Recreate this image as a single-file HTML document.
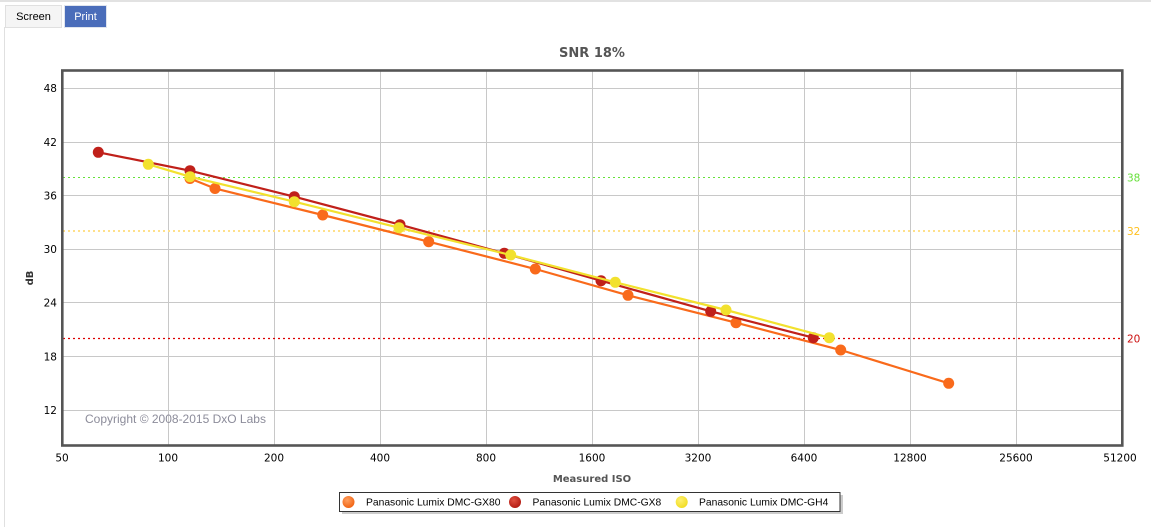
<!DOCTYPE html>
<html>
<head>
<meta charset="utf-8">
<style>
html,body{margin:0;padding:0;background:#fff;width:1151px;height:527px;overflow:hidden;}
svg{display:block;}
</style>
</head>
<body>
<svg width="1151" height="527" viewBox="0 0 1151 527" xmlns="http://www.w3.org/2000/svg">
  <!-- outer frame -->
  <rect x="0" y="0" width="1151" height="2" fill="#e2e2e2"/>
  <rect x="4" y="27" width="1" height="500" fill="#e0e0e0"/>
  <!-- tabs -->
  <rect x="5.5" y="5.5" width="56" height="22" fill="#f5f5f5" stroke="#e0e0e0" stroke-width="1"/>
  <text x="33.5" y="20" font-family="Liberation Sans, Arial, sans-serif" font-size="11" fill="#000" text-anchor="middle">Screen</text>
  <rect x="64.5" y="5.5" width="42" height="22" fill="#4a6dba" stroke="#dfe4ee" stroke-width="1"/>
  <text x="85.5" y="20" font-family="Liberation Sans, Arial, sans-serif" font-size="11" fill="#fff" text-anchor="middle">Print</text>

  <!-- title -->
  <text x="592" y="57" font-family="DejaVu Sans, Verdana, sans-serif" font-size="13" font-weight="bold" fill="#555" text-anchor="middle">SNR 18%</text>

  <!-- grid -->
  <g stroke="#c8c8c8" stroke-width="1">
    <line x1="62" y1="88.5" x2="1122" y2="88.5"/>
    <line x1="62" y1="142.5" x2="1122" y2="142.5"/>
    <line x1="62" y1="195.5" x2="1122" y2="195.5"/>
    <line x1="62" y1="249.5" x2="1122" y2="249.5"/>
    <line x1="62" y1="302.5" x2="1122" y2="302.5"/>
    <line x1="62" y1="356.5" x2="1122" y2="356.5"/>
    <line x1="62" y1="410.5" x2="1122" y2="410.5"/>
    <line x1="168.5" y1="70" x2="168.5" y2="446"/>
    <line x1="274.5" y1="70" x2="274.5" y2="446"/>
    <line x1="380.5" y1="70" x2="380.5" y2="446"/>
    <line x1="486.5" y1="70" x2="486.5" y2="446"/>
    <line x1="592.5" y1="70" x2="592.5" y2="446"/>
    <line x1="698.5" y1="70" x2="698.5" y2="446"/>
    <line x1="804.5" y1="70" x2="804.5" y2="446"/>
    <line x1="910.5" y1="70" x2="910.5" y2="446"/>
    <line x1="1016.5" y1="70" x2="1016.5" y2="446"/>
  </g>

  <!-- threshold lines -->
  <line x1="63" y1="177.5" x2="1121" y2="177.5" stroke="#66e03a" stroke-width="1" stroke-dasharray="2,3"/>
  <line x1="63" y1="231" x2="1121" y2="231" stroke="#ffe08a" stroke-width="2" stroke-dasharray="2,3"/>
  <line x1="63" y1="338.5" x2="1121" y2="338.5" stroke="#dd0000" stroke-width="1.3" stroke-dasharray="2,3"/>
  <g font-family="DejaVu Sans, Verdana, sans-serif" font-size="10.5">
    <text x="1127" y="181.5" fill="#66e03a">38</text>
    <text x="1127" y="235" fill="#ffc020">32</text>
    <text x="1127" y="342.5" fill="#cc1010">20</text>
  </g>

  <!-- copyright -->
  <text x="85" y="423" font-family="Liberation Sans, Arial, sans-serif" font-size="12" fill="#8c8c9a">Copyright © 2008-2015 DxO Labs</text>

  <!-- series GX80 -->
  <polyline fill="none" stroke="#f96a1b" stroke-width="2.2" points="190,178.5 215,188.5 322.7,215 428.7,241.7 535.3,269 628,295.3 736,322.7 840.7,350 948.7,383.3"/>
  <g fill="#f96a1b">
    <circle cx="190" cy="178.5" r="5.5"/>
    <circle cx="215" cy="188.5" r="5.5"/>
    <circle cx="322.7" cy="215" r="5.5"/>
    <circle cx="428.7" cy="241.7" r="5.5"/>
    <circle cx="535.3" cy="269" r="5.5"/>
    <circle cx="628" cy="295.3" r="5.5"/>
    <circle cx="736" cy="322.7" r="5.5"/>
    <circle cx="840.7" cy="350" r="5.5"/>
    <circle cx="948.7" cy="383.3" r="5.5"/>
  </g>
  <!-- series GX8 -->
  <polyline fill="none" stroke="#c0201a" stroke-width="2.2" points="98.3,152.3 190,170.7 294.3,196.7 400,224.7 504.3,253.3 601,280.7 710.7,311.3 813.3,337.7"/>
  <g fill="#c0201a">
    <circle cx="98.3" cy="152.3" r="5.5"/>
    <circle cx="190" cy="170.7" r="5.5"/>
    <circle cx="294.3" cy="196.7" r="5.5"/>
    <circle cx="400" cy="224.7" r="5.5"/>
    <circle cx="504.3" cy="253.3" r="5.5"/>
    <circle cx="601" cy="280.7" r="5.5"/>
    <circle cx="710.7" cy="311.3" r="5.5"/>
    <circle cx="813.3" cy="337.7" r="5.5"/>
  </g>
  <!-- series GH4 -->
  <polyline fill="none" stroke="#f2e12e" stroke-width="2.2" points="148.3,164.3 190,176.7 294.3,201.7 399,227.7 510.7,255 615.3,282.3 726,310 829.3,337.7"/>
  <g fill="#f2e12e">
    <circle cx="148.3" cy="164.3" r="5.5"/>
    <circle cx="190" cy="176.7" r="5.5"/>
    <circle cx="294.3" cy="201.7" r="5.5"/>
    <circle cx="399" cy="227.7" r="5.5"/>
    <circle cx="510.7" cy="255" r="5.5"/>
    <circle cx="615.3" cy="282.3" r="5.5"/>
    <circle cx="726" cy="310" r="5.5"/>
    <circle cx="829.3" cy="337.7" r="5.5"/>
  </g>

  <!-- frame -->
  <rect x="62.3" y="70.5" width="1060" height="375" fill="none" stroke="#555" stroke-width="2.6"/>

  <!-- y tick labels -->
  <g font-family="DejaVu Sans, Verdana, sans-serif" font-size="10.5" fill="#000" text-anchor="end">
    <text x="57" y="92">48</text>
    <text x="57" y="146">42</text>
    <text x="57" y="199.5">36</text>
    <text x="57" y="253">30</text>
    <text x="57" y="306.5">24</text>
    <text x="57" y="360.5">18</text>
    <text x="57" y="414">12</text>
  </g>
  <text transform="translate(33,278) rotate(-90)" font-family="DejaVu Sans, Verdana, sans-serif" font-size="10" font-weight="bold" fill="#333" text-anchor="middle">dB</text>

  <!-- x tick labels -->
  <g font-family="DejaVu Sans, Verdana, sans-serif" font-size="10.5" fill="#000" text-anchor="middle">
    <text x="62" y="461.5">50</text>
    <text x="168" y="461.5">100</text>
    <text x="274" y="461.5">200</text>
    <text x="380" y="461.5">400</text>
    <text x="486" y="461.5">800</text>
    <text x="592" y="461.5">1600</text>
    <text x="698" y="461.5">3200</text>
    <text x="804" y="461.5">6400</text>
    <text x="910" y="461.5">12800</text>
    <text x="1016" y="461.5">25600</text>
    <text x="1120" y="461.5">51200</text>
  </g>
  <text x="592" y="482" font-family="DejaVu Sans, Verdana, sans-serif" font-size="10" font-weight="bold" fill="#555" text-anchor="middle">Measured ISO</text>

  <!-- legend -->
  <rect x="342" y="495" width="501" height="19" fill="#aaa" opacity="0.6"/>
  <rect x="339.5" y="492.5" width="500.5" height="19" fill="#fff" stroke="#333" stroke-width="1"/>
  <defs>
    <radialGradient id="gO" cx="0.4" cy="0.35" r="0.7">
      <stop offset="0" stop-color="#ffa060"/><stop offset="1" stop-color="#f0600f"/>
    </radialGradient>
    <radialGradient id="gR" cx="0.4" cy="0.35" r="0.7">
      <stop offset="0" stop-color="#e05040"/><stop offset="1" stop-color="#b01810"/>
    </radialGradient>
    <radialGradient id="gY" cx="0.4" cy="0.35" r="0.7">
      <stop offset="0" stop-color="#fff070"/><stop offset="1" stop-color="#f0dc20"/>
    </radialGradient>
  </defs>
  <circle cx="348.5" cy="502" r="6" fill="url(#gO)"/>
  <circle cx="515" cy="502" r="6" fill="url(#gR)"/>
  <circle cx="681.7" cy="502" r="6" fill="url(#gY)"/>
  <g font-family="Liberation Sans, Arial, sans-serif" font-size="10.3" fill="#000">
    <text x="366" y="505.5">Panasonic Lumix DMC-GX80</text>
    <text x="532.5" y="505.5">Panasonic Lumix DMC-GX8</text>
    <text x="699" y="505.5">Panasonic Lumix DMC-GH4</text>
  </g>
</svg>
</body>
</html>
